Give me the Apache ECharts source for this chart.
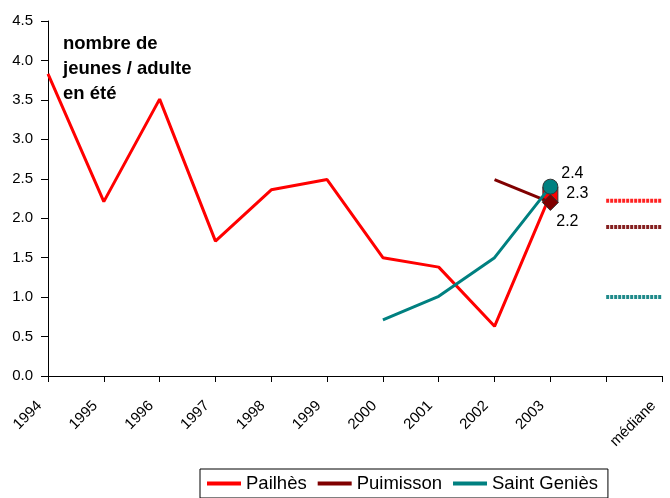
<!DOCTYPE html>
<html>
<head>
<meta charset="utf-8">
<script src="https://cdn.jsdelivr.net/npm/echarts@6/dist/echarts.min.js"></script>
<style>
html,body{margin:0;padding:0;background:#fff;}
#chart{width:670px;height:498px;}
</style>
</head>
<body>
<div id="chart"></div>
<script>
var years = ['1994','1995','1996','1997','1998','1999','2000','2001','2002','2003','','médiane'];
var pailhes = [3.83, 2.21, 3.51, 1.71, 2.36, 2.49, 1.50, 1.38, 0.63, 2.3, null, null];
var puimisson = [null, null, null, null, null, null, null, null, 2.49, 2.2, null, null];
var saintGenies = [null, null, null, null, null, null, 0.71, 1.01, 1.50, 2.4, null, null];
var medPailhes = [null, null, null, null, null, null, null, null, null, null, 2.22, 2.22];
var medPuimisson = [null, null, null, null, null, null, null, null, null, null, 1.89, 1.89];
var medSaintGenies = [null, null, null, null, null, null, null, null, null, null, 1.0, 1.0];

var font = 'Liberation Sans, Arial, sans-serif';

// marker + value label only on the last year
function lastPoint(arr, symbol, size, color, off) {
	return arr.map(function(v, i){
		if (i != 9 || v == null) return v;
		return {
			value: v,
			symbol: symbol,
			symbolSize: size,
			itemStyle: {color: color, borderColor: '#333', borderWidth: 1, opacity: 1},
			label: {show: true, position: 'inside', offset: off, color: '#000', fontSize: 16, fontFamily: font,
				formatter: function(p){ return p.value.toFixed(1); }}
		};
	});
}

var myChart = echarts.init(document.getElementById('chart'));
var option = {
	animation: false,
	grid: {left: 48, right: 8, top: 21, bottom: 122},
	legend: {
		data: ['Pailhès', 'Puimisson', 'Saint Geniès'],
		left: 200, top: 469,
		padding: [5, 10, 5, 7],
		borderColor: '#000', borderWidth: 1, borderRadius: 0,
		itemWidth: 34, itemHeight: 4, itemGap: 11,
		icon: 'rect',
		textStyle: {fontSize: 18.5, fontFamily: font, color: '#000'}
	},
	graphic: [{
		type: 'text', left: 63, top: 31,
		style: {text: 'nombre de\njeunes / adulte\nen été', font: 'bold 18.5px ' + font, lineHeight: 25, fill: '#000'}
	}],
	xAxis: {
		type: 'category',
		data: years,
		boundaryGap: false,
		axisLine: {lineStyle: {color: '#000', width: 1}},
		axisTick: {show: true, length: 6, lineStyle: {color: '#000'}},
		axisLabel: {rotate: 45, interval: 0, color: '#000', fontSize: 15, fontFamily: font, margin: 19,
			padding: [0, 12, 0, 0]},
		splitLine: {show: false}
	},
	yAxis: {
		type: 'value',
		min: 0, max: 4.5, interval: 0.5,
		axisLine: {show: true, lineStyle: {color: '#000', width: 1}},
		axisTick: {show: true, length: 7, lineStyle: {color: '#000'}},
		axisLabel: {color: '#000', fontSize: 15, fontFamily: font, margin: 15,
			formatter: function(v){ return v.toFixed(1); }},
		splitLine: {show: false}
	},
	series: [
		{
			name: 'Pailhès', type: 'line', color: '#ff0000', z: 2,
			symbol: 'none',
			lineStyle: {width: 3, color: '#ff0000'},
			data: lastPoint(pailhes, 'rect', 15, '#ff0000', [27, -1])
		},
		{
			name: 'Puimisson', type: 'line', color: '#800000', z: 3,
			symbol: 'none',
			lineStyle: {width: 3, color: '#800000'},
			data: lastPoint(puimisson, 'diamond', [16, 16], '#800000', [17, 19])
		},
		{
			name: 'Saint Geniès', type: 'line', color: '#008080', z: 4,
			symbol: 'none',
			lineStyle: {width: 3, color: '#008080'},
			data: lastPoint(saintGenies, 'circle', 15, '#008080', [22, -13])
		},
		{
			name: 'médiane Pailhès', type: 'line', symbol: 'none', silent: true,
			lineStyle: {width: 4, color: '#f22', type: [3, 1]},
			data: medPailhes
		},
		{
			name: 'médiane Puimisson', type: 'line', symbol: 'none', silent: true,
			lineStyle: {width: 4, color: '#852020', type: [3, 1]},
			data: medPuimisson
		},
		{
			name: 'médiane Saint Geniès', type: 'line', symbol: 'none', silent: true,
			lineStyle: {width: 4, color: '#208a8a', type: [3, 1]},
			data: medSaintGenies
		}
	]
};
myChart.setOption(option);
</script>
</body>
</html>
